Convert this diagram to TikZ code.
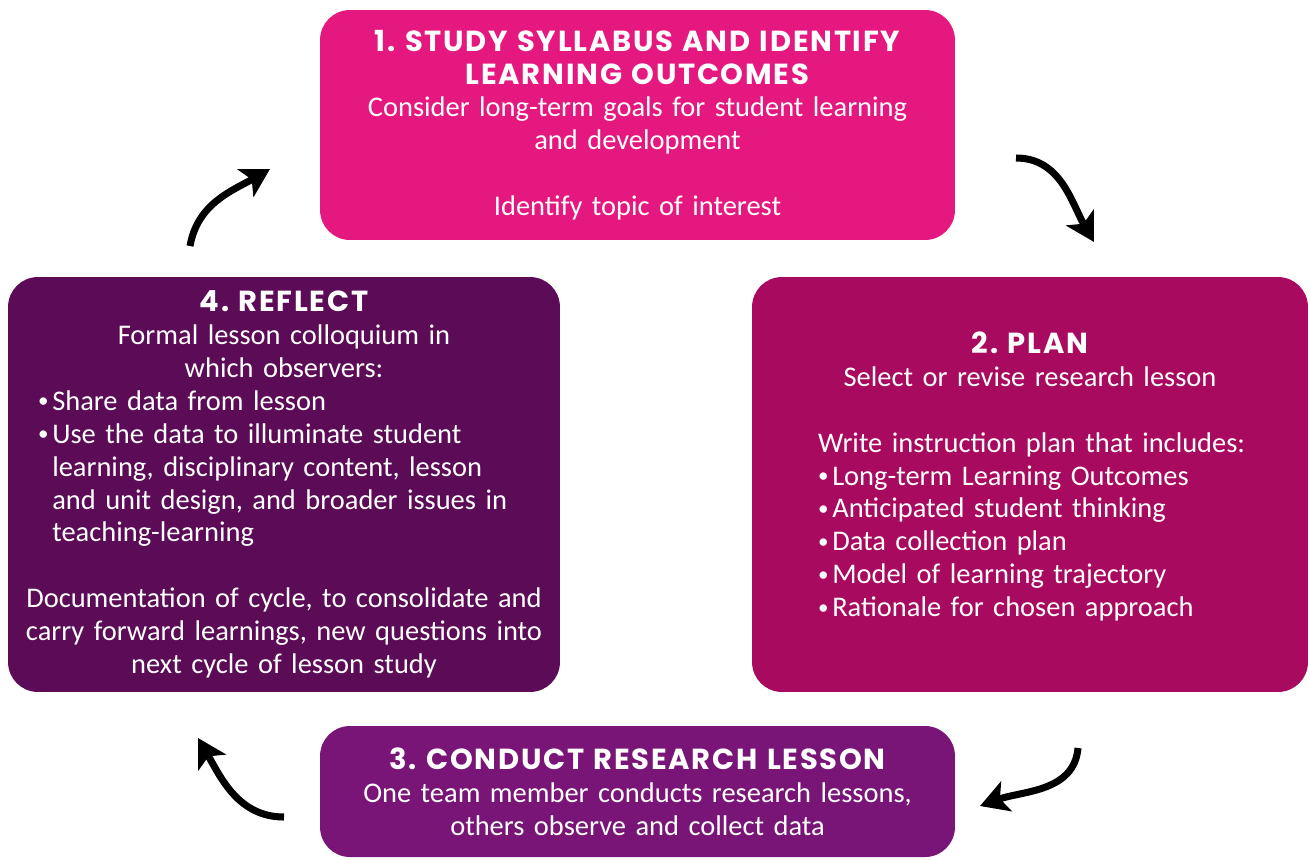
\documentclass[tikz,border=0pt]{standalone}
\usepackage{fontspec}
\setmainfont{Carlito}
\newfontfamily\headfont{Poppins}[LetterSpace=6]
\usetikzlibrary{arrows.meta}

\definecolor{studypink}{HTML}{E5187F}
\definecolor{planberry}{HTML}{A80A60}
\definecolor{conductpurple}{HTML}{7A1578}
\definecolor{reflectplum}{HTML}{5C0B57}

\tikzset{
  stepbox/.style={rounded corners=17pt, text=white, inner sep=0pt,
    font=\fontsize{16.2}{18.7}\selectfont\frenchspacing},
  cyclearrow/.style={line width=4pt, -{Stealth[length=16pt,width=18pt,inset=4pt]}},
}
\newcommand{\steptitle}[1]{{\headfont\fontsize{16.5}{18.7}\selectfont\bfseries #1}}
\newcommand{\bul}[1]{\par\hangindent=0.5em\hangafter=1\noindent
  \makebox[0.5em][l]{\fontsize{12}{12}\selectfont\raisebox{0.12em}{•}}#1}

\begin{document}
\begin{tikzpicture}[x=0.02cm,y=-0.02cm]
  \useasboundingbox (0,0) rectangle (1310,859);

  % the four steps
  \node[stepbox, fill=studypink, minimum width=12.7cm, minimum height=4.6cm,
        text width=12cm, align=center] (study) at (637.5,125)
    {\steptitle{1. STUDY SYLLABUS AND IDENTIFY}\\ \steptitle{LEARNING OUTCOMES}\\
     Consider long-term goals for student learning\\ and development\\[18.7pt]
     Identify topic of interest};

  \node[stepbox, fill=planberry, minimum width=11.12cm, minimum height=8.3cm,
        text width=10.4cm] (plan) at (1030,484.5)
    {{\centering \steptitle{2. PLAN}\\ Select or revise research lesson\par}
     \vspace{18.7pt}
     \noindent\hspace*{0.96cm}\parbox[t]{9.2cm}{\raggedright Write instruction plan that includes:
       \bul{Long-term Learning Outcomes}
       \bul{Anticipated student thinking}
       \bul{Data collection plan}
       \bul{Model of learning trajectory}
       \bul{Rationale for chosen approach}}\par
     \vspace{9pt}};

  \node[stepbox, fill=conductpurple, minimum width=12.7cm, minimum height=2.62cm,
        text width=12cm, align=center] (conduct) at (637.5,791.5)
    {\steptitle{3. CONDUCT RESEARCH LESSON}\\
     One team member conducts research lessons,\\ others observe and collect data};

  \node[stepbox, fill=reflectplum, minimum width=11.04cm, minimum height=8.3cm,
        text width=10.4cm] (reflect) at (284,484.5)
    {{\centering \steptitle{4. REFLECT}\\ Formal lesson colloquium in\\ which observers:\par}
     {\raggedright\leftskip=0.28cm
       \bul{Share data from lesson}
       \bul{Use the data to illuminate student\newline learning, disciplinary content, lesson\newline
            and unit design, and broader issues in\newline teaching-learning}\par}
     \vspace{18.7pt}
     {\centering Documentation of cycle, to consolidate and\\
      carry forward learnings, new questions into\\ next cycle of lesson study\par}};

  % arrow ends
  \coordinate (reflectout) at (190,246);
  \coordinate (studyin) at (270,169);
  \coordinate (studyout) at (1016,158);
  \coordinate (planin) at (1094,242);
  \coordinate (planout) at (1078,748);
  \coordinate (conductin) at (980,806);
  \coordinate (conductout) at (284,817);
  \coordinate (reflectin) at (198,738);

  \draw[cyclearrow] (reflectout) to[out=80, in=210] (studyin);
  \draw[cyclearrow] (studyout) to[out=0, in=120] (planin);
  \draw[cyclearrow] (planout) to[out=-95, in=20] (conductin);
  \draw[cyclearrow] (conductout) to[out=180, in=-60] (reflectin);
\end{tikzpicture}
\end{document}
